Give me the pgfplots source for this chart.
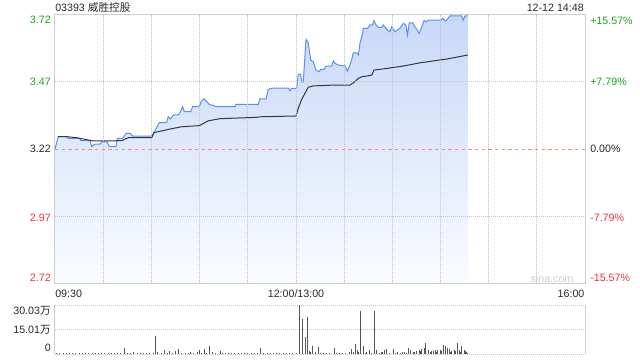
\documentclass[border=0pt]{standalone}
\usepackage{pgfplots}
\pgfplotsset{compat=1.18}
\usepackage{fontspec}
\setmainfont{Liberation Sans}
\newfontfamily\cjk{Noto Sans CJK SC}
\definecolor{upg}{RGB}{26,165,26}
\definecolor{dnr}{RGB}{238,50,50}
\definecolor{gridc}{RGB}{195,195,200}
\definecolor{bordc}{RGB}{205,205,205}
\definecolor{priceb}{RGB}{90,143,240}
\definecolor{avgc}{RGB}{50,55,65}
\definecolor{refo}{RGB}{235,150,110}
\definecolor{fillt}{RGB}{200,216,247}
\definecolor{fillb}{RGB}{250,252,255}
\definecolor{txt}{RGB}{40,40,40}
\definecolor{volc}{RGB}{85,85,85}
\pgfplotstableread{
t p
0 3.22
2.0 3.266
7.3 3.266
8.1 3.26
15.6 3.26
16 3.251
21.8 3.251
22.9 3.229
24.9 3.238
28 3.238
29.1 3.247
32.4 3.247
33.8 3.229
38 3.229
38.8 3.26
42.2 3.26
44.2 3.278
46.7 3.278
48.4 3.268
60.2 3.268
61.6 3.28
64.9 3.318
69.5 3.318
70.5 3.34
72 3.332
73.7 3.347
76.8 3.347
77.8 3.355
79.5 3.378
80.5 3.359
84.5 3.359
85.7 3.378
89.8 3.378
91.3 3.40
92.8 3.407
96.1 3.386
100.7 3.378
112.1 3.378
112.7 3.386
126.6 3.386
127.6 3.407
131.4 3.407
132.8 3.442
135.5 3.447
145.3 3.447
146.3 3.437
147.4 3.446
150.5 3.446
151.5 3.499
153 3.499
153.6 3.47
154.6 3.47
156.3 3.628
157.7 3.614
159.2 3.551
160.8 3.545
162.5 3.514
164.6 3.508
165.4 3.517
167.5 3.517
168.7 3.529
172.3 3.529
173.3 3.548
174.3 3.539
176.4 3.533
180.6 3.529
182 3.51
183.2 3.526
184.7 3.551
185.7 3.578
187.9 3.578
188.9 3.57
189.9 3.614
191 3.638
192 3.669
194.5 3.669
196.1 3.682
197.8 3.682
198.6 3.698
199.9 3.682
201.3 3.673
203.4 3.673
204.4 3.682
206.5 3.666
208.6 3.657
209.6 3.675
211.7 3.657
214.8 3.67
216.9 3.688
218.5 3.682
219.4 3.644
220.6 3.69
222.7 3.69
224.1 3.675
225.6 3.662
226.8 3.65
228.3 3.675
229.8 3.698
231 3.694
232.4 3.70
240.4 3.70
241.4 3.707
242.8 3.698
243.9 3.70
245.9 3.716
253.2 3.716
254.2 3.70
255.3 3.716
257 3.716
}\pricedata
\pgfplotstableread{
t p
2.0 3.266
7.3 3.266
13.5 3.262
23.8 3.25
41.5 3.251
45.6 3.262
60.2 3.262
61.6 3.281
73.7 3.297
78.9 3.303
89.8 3.307
95.4 3.325
102.7 3.333
125.6 3.338
127.6 3.34
150.1 3.343
151.5 3.372
153.6 3.405
155.7 3.428
157.7 3.45
160.8 3.455
173.3 3.458
183.7 3.458
186.8 3.471
188.8 3.483
191 3.489
197.2 3.495
198.6 3.514
206.5 3.52
216.9 3.529
227.3 3.541
243.9 3.555
257 3.57
}\avgdata
\begin{document}
\begin{tikzpicture}[font=\fontsize{8}{9.6}\selectfont]
\useasboundingbox (0,0) rectangle (480pt,270pt);
\begin{axis}[at={(41.25pt,57.5pt)}, anchor=south west, scale only axis,
  width=397.5pt, height=201.45pt,
  xmin=0, xmax=330, ymin=2.72, ymax=3.72,
  xtick={30,60,...,300}, ytick={2.97,3.47},
  xticklabels={}, yticklabels={},
  major tick length=0pt,
  grid=major, grid style={gridc, line width=0.6pt, dash pattern=on 0.75pt off 0.75pt},
  axis line style={bordc, line width=0.75pt},
  axis on top]
\addplot[draw=none, top color=fillt, bottom color=fillb] table[x=t,y=p] {\pricedata} |- (0,2.72) -- cycle;
\addplot[refo, line width=0.6pt, dash pattern=on 2.5pt off 2.5pt] coordinates {(0,3.22) (330,3.22)};
\addplot[priceb, line width=0.75pt] table[x=t,y=p] {\pricedata};
\addplot[avgc, line width=0.75pt] table[x=t,y=p] {\avgdata};
\end{axis}
\begin{axis}[at={(41.25pt,4.275pt)}, anchor=south west, scale only axis,
  width=397.5pt, height=37pt,
  xmin=0, xmax=330, ymin=0, ymax=30.03,
  xtick=\empty, ytick={15.01}, yticklabels={},
  major tick length=0pt,
  ymajorgrids, grid style={gridc, line width=0.6pt, dash pattern=on 0.75pt off 0.75pt},
  separate axis lines,
  x axis line style={gridc, line width=0.6pt, dash pattern=on 0.75pt off 0.75pt},
  y axis line style={bordc, line width=0.75pt}]
\addplot[ycomb, volc, line width=0.6pt] coordinates {
(1,0.9)(3,0.6)(5,0.7)(7,0.5)(9,0.6)(11,0.8)(13,0.5)(15,0.6)(17,0.7)(19,0.5)
(21,0.6)(23,0.9)(25,0.5)(27,0.6)(29,0.7)(31,0.5)(33,0.8)(35,0.6)(37,0.5)(39,0.7)
(41,0.6)(43.1,4.0)(45,0.9)(47,0.5)(49,1.2)(51,0.6)(53,0.5)(55,0.7)(57,0.6)(59,0.8)
(61,0.6)(62.6,11.1)(64,1.5)(66,0.9)(68,2.4)(70,0.8)(71,2.0)(73,1.0)(74.7,1.8)(76.8,3.0)
(79,0.9)(81,0.6)(83,0.5)(84,1.2)(86,0.7)(88.4,1.2)(89.8,2.4)(91,0.8)(92.8,3.5)(94,0.6)
(96,5.0)(98,1.2)(100,0.8)(102.7,1.8)(104,0.6)(106,0.5)(108,0.7)(110,0.6)(112,0.5)(114,0.6)
(116,0.7)(118,0.5)(120,0.6)(122,0.5)(124,0.8)(126,0.6)(127.6,3.8)(130,0.7)(132,0.5)(134,0.6)
(136,0.8)(138,0.5)(140,0.6)(142,0.7)(144,0.5)(146,0.6)(148,1.0)(150,0.8)
(152.1,30.03)(154,21.5)(155.8,10.7)(157.1,22.8)(158.2,1.8)(159,1.5)(160.3,5.0)(161.9,1.2)(163.9,4.4)
(165,1.0)(167,0.8)(169,0.6)(171,0.7)(173.9,3.8)(175,0.6)(177,0.5)(179,0.8)(181,0.6)(183,1.5)
(184.7,3.5)(185.8,1.5)(186.8,6.1)(188.5,2.4)(189,1.2)(190.2,26.3)(192,4.9)(193,0.9)(194,1.5)(195.5,2.4)
(197,1.0)(198.8,26.3)(200.3,2.9)(202,0.8)(203,1.5)(204,1.2)(205,2.4)(206.5,3.5)(208,0.9)(210.6,3.0)
(212,0.8)(213,1.4)(215,0.9)(216,1.5)(217.5,1.2)(218.5,0.9)(220,3.8)(221,2.9)(223,1.2)(224,1.6)
(225.2,2.0)(226.6,2.9)(227.5,1.8)(228.3,3.5)(229.9,3.8)(230.8,7.1)(232.4,2.9)(233.5,1.5)(234.5,1.8)(235.8,2.0)
(236.6,2.4)(237.5,1.5)(238.3,2.4)(239.7,2.9)(240.5,2.0)(241.8,5.5)(243.3,4.9)(244.5,4.0)(245.3,3.5)(246,1.5)
(247,2.0)(248.6,2.9)(249.5,1.8)(250.5,6.9)(251.5,2.9)(252.5,1.5)(253.2,4.9)(254.8,2.9)(255.5,2.0)(256,1.2)(257,1.0)
};
\end{axis}
% titles
\node[anchor=west, text=txt, inner sep=0pt] at (41.25pt,264.4pt) {03393 {\cjk 威胜控股}};
\node[anchor=east, text=txt, inner sep=0pt] at (438pt,264.4pt) {12-12 14:48};
% x labels
\node[anchor=west, text=txt, inner sep=0pt] at (41.25pt,50pt) {09:30};
\node[anchor=center, text=txt, inner sep=0pt] at (222pt,50pt) {12:00/13:00};
\node[anchor=east, text=txt, inner sep=0pt] at (438.5pt,50pt) {16:00};
% left price labels
\node[anchor=east, text=upg, inner sep=0pt] at (38.25pt,255pt) {3.72};
\node[anchor=east, text=upg, inner sep=0pt] at (38.25pt,208.5pt) {3.47};
\node[anchor=east, text=txt, inner sep=0pt] at (38.25pt,158.25pt) {3.22};
\node[anchor=east, text=dnr, inner sep=0pt] at (38.25pt,107pt) {2.97};
\node[anchor=east, text=dnr, inner sep=0pt] at (38.25pt,61.3pt) {2.72};
% right percent labels
\node[anchor=west, text=upg, inner sep=0pt] at (442.5pt,254.5pt) {+15.57\%};
\node[anchor=west, text=upg, inner sep=0pt] at (442.5pt,208.5pt) {+7.79\%};
\node[anchor=west, text=txt, inner sep=0pt] at (442.5pt,158.25pt) {0.00\%};
\node[anchor=west, text=dnr, inner sep=0pt] at (442.5pt,107pt) {-7.79\%};
\node[anchor=west, text=dnr, inner sep=0pt] at (442.5pt,61.5pt) {-15.57\%};
% volume labels
\node[anchor=east, text=txt, inner sep=0pt] at (38.25pt,36.75pt) {30.03{\cjk 万}};
\node[anchor=east, text=txt, inner sep=0pt] at (38.25pt,22.5pt) {15.01{\cjk 万}};
\node[anchor=east, text=txt, inner sep=0pt] at (38.25pt,9pt) {0};
% watermark
\node[anchor=center, text=gray!40, inner sep=0pt] at (414pt,60.75pt) {sina.com};
\end{tikzpicture}
\end{document}
